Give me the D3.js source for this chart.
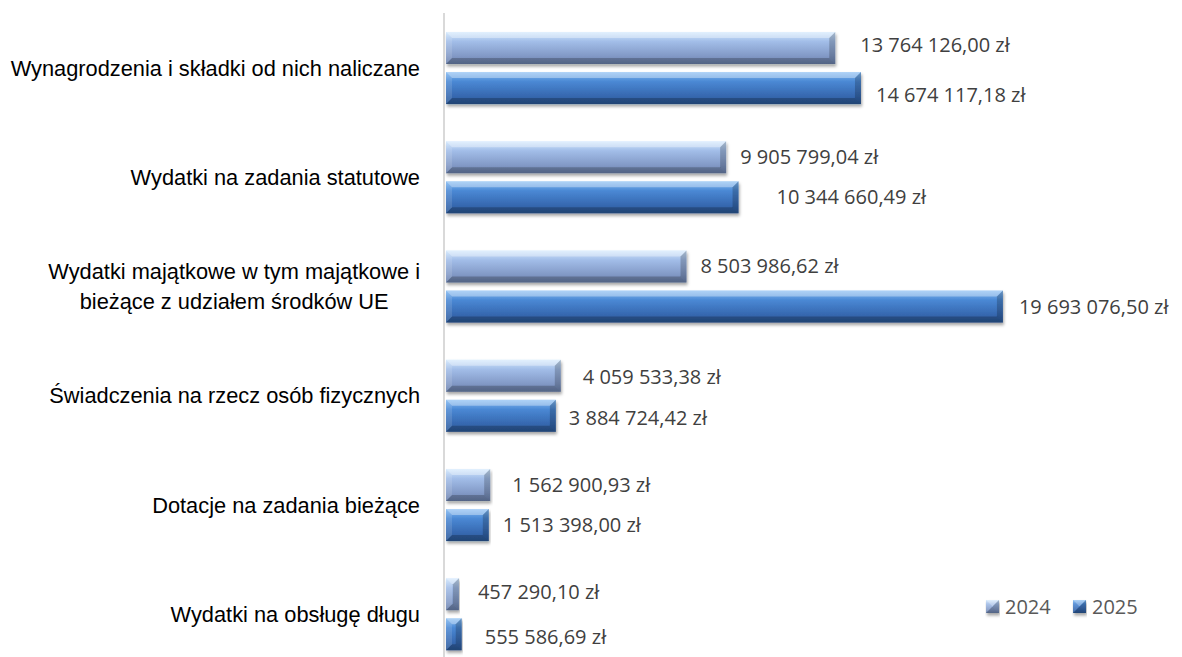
<!DOCTYPE html>
<html>
<head>
<meta charset="utf-8">
<script src="https://cdn.jsdelivr.net/npm/d3@7"></script>
<style>
  body { margin: 0; background: #fff; }
  svg { display: block; }
</style>
</head>
<body>
<svg width="1182" height="657"></svg>
<script>
// dane z wykresu
var categories = [
  ["Wynagrodzenia i składki od nich naliczane"],
  ["Wydatki na zadania statutowe"],
  ["Wydatki majątkowe w tym majątkowe i", "bieżące z udziałem środków UE"],
  ["Świadczenia na rzecz osób fizycznych"],
  ["Dotacje na zadania bieżące"],
  ["Wydatki na obsługę długu"]
];
var years = ["2024", "2025"];
var values2024 = [13764126.00, 9905799.04, 8503986.62, 4059533.38, 1562900.93, 457290.10];
var values2025 = [14674117.18, 10344660.49, 19693076.50, 3884724.42, 1513398.00, 555586.69];

// ręcznie przesunięte etykiety (jak w oryginale)
var labelShift = {
  "2024": [[25, -3], [14, 0], [14, 0], [22, 1], [22, 0], [19, -2]],
  "2025": [[15, 7], [38, 0], [16, 0], [13, 2], [14, 0], [23, 3]]
};

var svg = d3.select("svg"),
    width = +svg.attr("width"),
    height = +svg.attr("height");

var x0 = 446;
var x = d3.scaleLinear().domain([0, 20000000]).range([x0, x0 + 565.6]);
var y = d3.scaleBand().domain(d3.range(categories.length))
  .range([13.4, 13.4 + 109.25 * categories.length])
  .paddingInner(0.34).paddingOuter(0.17);
var ySub = d3.scaleBand().domain(years).range([0, y.bandwidth()]).paddingInner(0.2);

var fmt = function(v) {
  var s = v.toFixed(2).split(".");
  return s[0].replace(/\B(?=(\d{3})+(?!\d))/g, " ") + "," + s[1] + " zł";
};

// gradienty
var defs = svg.append("defs");
var palette = {
  "2024": ["#d2e8fd", "#a2bde8", "#8299c6", "#6a80ab"],
  "2025": ["#84bbf3", "#4a88d4", "#3668b0", "#2b5896"]
};
years.forEach(function(yr) {
  var g = defs.append("linearGradient").attr("id", "g" + yr)
    .attr("x1", 0).attr("y1", 0).attr("x2", 0).attr("y2", 1);
  var c = palette[yr];
  g.append("stop").attr("offset", "0%").attr("stop-color", c[0]);
  g.append("stop").attr("offset", "30%").attr("stop-color", c[1]);
  g.append("stop").attr("offset", "75%").attr("stop-color", c[2]);
  g.append("stop").attr("offset", "100%").attr("stop-color", c[3]);
});
var f = defs.append("filter").attr("id", "shadow")
  .attr("x", "-5%").attr("y", "-20%").attr("width", "110%").attr("height", "160%");
f.append("feDropShadow").attr("dx", 1).attr("dy", 2.5).attr("stdDeviation", 1.6)
  .attr("flood-color", "#000").attr("flood-opacity", 0.35);

// oś pionowa
svg.append("line")
  .attr("x1", 444).attr("x2", 444).attr("y1", 13).attr("y2", height)
  .attr("stroke", "#d9d9d9").attr("stroke-width", 2);

function bevelBar(g, bx, by, bw, bh, yr) {
  var b = Math.min(6, bw / 2, bh / 2);
  var x1 = bx + bw, y1 = by + bh;
  var grp = g.append("g").attr("filter", "url(#shadow)");
  grp.append("rect").attr("x", bx).attr("y", by).attr("width", bw).attr("height", bh)
    .attr("fill", "url(#g" + yr + ")");
  var pts = function(a) { return a.map(function(p) { return p.join(","); }).join(" "); };
  grp.append("polygon")
    .attr("points", pts([[bx, by], [x1, by], [x1 - b, by + b], [bx + b, by + b]]))
    .attr("fill", "#fff").attr("fill-opacity", 0.35);
  grp.append("polygon")
    .attr("points", pts([[bx, y1], [x1, y1], [x1 - b, y1 - b], [bx + b, y1 - b]]))
    .attr("fill", "#000").attr("fill-opacity", 0.22);
  grp.append("polygon")
    .attr("points", pts([[bx, by], [bx + b, by + b], [bx + b, y1 - b], [bx, y1]]))
    .attr("fill", "#fff").attr("fill-opacity", 0.12);
  grp.append("polygon")
    .attr("points", pts([[x1, by], [x1 - b, by + b], [x1 - b, y1 - b], [x1, y1]]))
    .attr("fill", "#000").attr("fill-opacity", 0.2);
}

var series = { "2024": values2024, "2025": values2025 };

categories.forEach(function(lines, i) {
  years.forEach(function(yr) {
    var v = series[yr][i];
    var by = y(i) + ySub(yr);
    var sh = labelShift[yr][i];
    bevelBar(svg, x(0), by, x(v) - x(0), ySub.bandwidth(), yr);
    svg.append("text")
      .attr("x", x(v) + sh[0])
      .attr("y", by + ySub.bandwidth() / 2 + sh[1])
      .attr("dy", "0.35em")
      .attr("font-family", "'Open Sans', sans-serif")
      .attr("font-size", 20)
      .attr("fill", "#404040")
      .text(fmt(v));
  });
});

// etykiety kategorii
var labelRight = 420;
categories.forEach(function(lines, i) {
  var cy = y(i) + y.bandwidth() / 2;
  var t = svg.append("text")
    .attr("font-family", "'Liberation Sans', Arial, sans-serif")
    .attr("font-size", 21.8)
    .attr("fill", "#000")
    .attr("text-anchor", "middle");
  var lh = 30;
  lines.forEach(function(l, k) {
    t.append("tspan").attr("x", 0)
      .attr("y", cy + (k - (lines.length - 1) / 2) * lh)
      .attr("dy", "0.35em").text(l);
  });
  var w = t.node().getBBox().width;
  t.selectAll("tspan").attr("x", labelRight - w / 2);
});

// legenda
var legend = svg.append("g").attr("transform", "translate(986,600)");
years.forEach(function(yr, k) {
  var lg = legend.append("g").attr("transform", "translate(" + (k * 87) + ",0)");
  bevelBar(lg, 0, 0, 13, 13, yr);
  lg.append("text").attr("x", 19).attr("y", 6.5).attr("dy", "0.35em")
    .attr("font-family", "'Open Sans', sans-serif").attr("font-size", 20)
    .attr("fill", "#595959").text(yr);
});
</script>
</body>
</html>
